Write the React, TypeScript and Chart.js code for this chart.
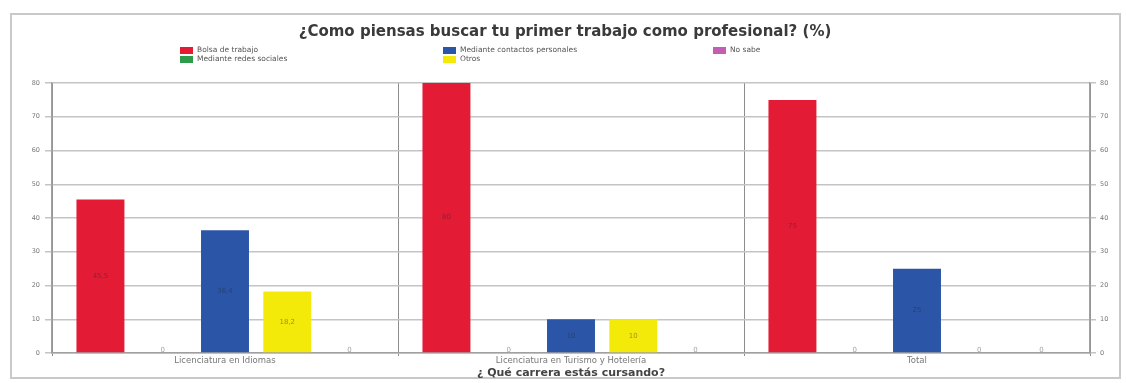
import React, { useEffect, useRef } from "react";
import { Chart, registerables } from "chart.js";

Chart.register(...registerables);

const categories = ["Licenciatura en Idiomas", "Licenciatura en Turismo y Hotelería", "Total"];
const seriesNames = [
  "Bolsa de trabajo",
  "Mediante redes sociales",
  "Mediante contactos personales",
  "Otros",
  "No sabe",
];
const bolsaValues = [45.5, 80, 75];
const redesValues = [0, 0, 0];
const contactosValues = [36.4, 10, 25];
const otrosValues = [18.2, 10, 0];
const noSabeValues = [0, 0, 0];
const seriesColors = ["#E31B35", "#2E9B4A", "#2B55A6", "#F4EA0A", "#C25FB3"];
const yTickValues = [0, 10, 20, 30, 40, 50, 60, 70, 80];
const chartTitle = "¿Como piensas buscar tu primer trabajo como profesional? (%)";
const xAxisTitle = "¿ Qué carrera estás cursando?";

const fmt = (v: number) => (Number.isInteger(v) ? String(v) : v.toFixed(1).replace(".", ","));

const decorPlugin = {
  id: "decor",
  beforeDraw(chart: any) {
    const ctx = chart.ctx;
    ctx.save();
    ctx.fillStyle = "#ffffff";
    ctx.fillRect(0, 0, chart.width, chart.height);
    ctx.strokeStyle = "#c9c9c9";
    ctx.lineWidth = 2;
    ctx.strokeRect(11, 14, 1109, 364);
    ctx.restore();
  },
  afterDraw(chart: any) {
    const ctx = chart.ctx;
    ctx.save();
    ctx.fillStyle = "#3a3a3a";
    ctx.font = "bold 15px 'DejaVu Sans'";
    ctx.textAlign = "center";
    ctx.textBaseline = "middle";
    ctx.fillText(chartTitle, 565, 32);
    // legend, 3 columns x 2 rows, column-major
    const colX = [180, 443, 713];
    const rowY = [50, 59];
    ctx.font = "7.5px 'DejaVu Sans'";
    ctx.textAlign = "left";
    chart.data.datasets.forEach((ds: any, i: number) => {
      const c = Math.floor(i / 2);
      const r = i % 2;
      ctx.fillStyle = ds.backgroundColor;
      ctx.fillRect(colX[c], rowY[r] - 3, 13, 7);
      ctx.fillStyle = "#555";
      ctx.fillText(ds.label, colX[c] + 17, rowY[r] + 0.5);
    });
    // value labels
    ctx.font = "7px 'DejaVu Sans'";
    ctx.textAlign = "center";
    chart.data.datasets.forEach((ds: any, i: number) => {
      const meta = chart.getDatasetMeta(i);
      meta.data.forEach((el: any, j: number) => {
        const v = ds.data[j];
        const y = v === 0 ? el.base - 3 : (el.y + el.base) / 2;
        ctx.fillStyle = "rgba(40,40,60,0.45)";
        ctx.fillText(fmt(v), el.x, y);
      });
    });
    ctx.restore();
  },
};

export default function App() {
  const ref = useRef<HTMLCanvasElement | null>(null);
  useEffect(() => {
    if (!ref.current) return;
    const series = [bolsaValues, redesValues, contactosValues, otrosValues, noSabeValues];
    const chart = new Chart(ref.current, {
      type: "bar",
      data: {
        labels: categories,
        datasets: series.map((d, i) => ({
          label: seriesNames[i],
          data: d,
          backgroundColor: seriesColors[i],
          borderWidth: 0,
          categoryPercentage: 0.9,
          barPercentage: 0.77,
          yAxisID: "y",
        })),
      },
      options: {
        animation: false,
        responsive: false,
        maintainAspectRatio: false,
        layout: { padding: { top: 83, left: 0, right: 0, bottom: 0 } },
        plugins: {
          legend: { display: false },
          title: { display: false },
          tooltip: { enabled: false },
        },
        scales: {
          x: {
            offset: true,
            grid: {
              offset: true,
              color: "#8c8c8c",
              lineWidth: 1,
              tickLength: 3,
            },
            border: { color: "#a0a0a0", width: 1.5 },
            ticks: {
              color: "#777",
              font: { family: "DejaVu Sans", size: 8.5 },
              padding: 0,
              maxRotation: 0,
              autoSkip: false,
            },
            title: {
              display: true,
              text: xAxisTitle,
              color: "#444",
              font: { family: "DejaVu Sans", size: 11, weight: "bold" },
              padding: { top: 0, bottom: 3 },
            },
            afterFit: (s: any) => {
              s.height = 30;
            },
          },
          y: {
            position: "left",
            min: 0,
            max: 80,
            afterBuildTicks: (s: any) => {
              s.ticks = yTickValues.map((v) => ({ value: v }));
            },
            grid: { color: "#c4c4c4", lineWidth: 1.5, tickLength: 7 },
            border: { color: "#a0a0a0", width: 1.5 },
            ticks: {
              color: "#777",
              font: { family: "DejaVu Sans", size: 6.5 },
              padding: 5,
            },
            afterFit: (s: any) => {
              s.width = 52;
            },
          },
          y2: {
            position: "right",
            min: 0,
            max: 80,
            afterBuildTicks: (s: any) => {
              s.ticks = yTickValues.map((v) => ({ value: v }));
            },
            grid: { drawOnChartArea: false, color: "#c4c4c4", lineWidth: 1.5, tickLength: 6 },
            border: { color: "#a0a0a0", width: 1.5 },
            ticks: {
              color: "#777",
              font: { family: "DejaVu Sans", size: 6.5 },
              padding: 4,
            },
            afterFit: (s: any) => {
              s.width = 36;
            },
          },
        },
      },
      plugins: [decorPlugin],
    } as any);
    return () => chart.destroy();
  }, []);
  return (
    <div style={{ position: "absolute", left: 0, top: 0, width: 1126, height: 383 }}>
      <canvas ref={ref} width={1126} height={383} style={{ width: 1126, height: 383 }} />
    </div>
  );
}
